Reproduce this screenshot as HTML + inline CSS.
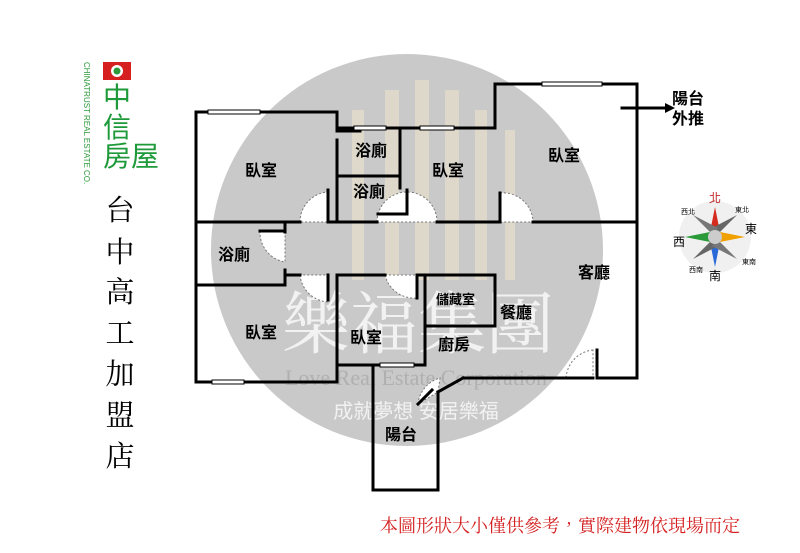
<!DOCTYPE html>
<html><head><meta charset="utf-8"><style>
html,body{margin:0;padding:0;background:#fff;width:800px;height:553px;overflow:hidden}
svg{display:block}
</style></head><body>
<svg width="800" height="553" xmlns="http://www.w3.org/2000/svg" font-family="Liberation Sans, Noto Sans CJK TC, sans-serif">
<circle cx="407" cy="250" r="196" fill="#c9c9c9"/>
<g fill="#efe6cc" opacity="0.55">
<rect x="352" y="110" width="12" height="170"/><rect x="385" y="90" width="14" height="190"/><rect x="415" y="80" width="14" height="200"/><rect x="445" y="90" width="14" height="190"/><rect x="475" y="110" width="12" height="170"/><rect x="505" y="130" width="10" height="150"/>
</g>
<text x="418" y="348" font-size="68" fill="#f2f2f2" text-anchor="middle" font-family="Noto Serif CJK SC, serif">樂福集團</text>
<text x="416" y="385" font-size="22" fill="#b0b0b0" text-anchor="middle" font-family="Liberation Serif, serif">Love Real Estate Corporation</text>
<text x="416" y="418" font-size="20" fill="#f2f2f2" text-anchor="middle">成就夢想 安居樂福</text>
<g stroke="#777" stroke-width="1" stroke-dasharray="2,2" fill="#fff">
<path d="M300,222 A30,30 0 0 1 328,192 L328,222Z"/>
<path d="M377,222 A30,30 0 0 1 437,222Z"/>
<path d="M500,193 A30,30 0 0 1 533,222 L500,222Z"/>
<path d="M260,231 A30,30 0 0 0 285,262 L285,231Z"/>
<path d="M300,275 A30,30 0 0 0 328,302 L328,275Z"/>
<path d="M385,275 A30,30 0 0 0 417,298 L417,275Z"/>
<path d="M418,404 A30,30 0 0 1 440,378 L438,392Z"/>
<path d="M593,350 A30,30 0 0 0 566,378 L593,378Z"/>
</g>
<g stroke="#000" stroke-width="3" fill="none" stroke-linecap="square">
<polyline points="337,128 337,112 196,112 196,382 337,382"/>
<polyline points="337,128 495,128 495,84 637,84 637,378 597,378 597,350"/>
<line x1="593" y1="378" x2="463" y2="378"/><line x1="463" y1="378" x2="438" y2="392"/>
<line x1="196" y1="222" x2="300" y2="222"/><line x1="330" y1="222" x2="377" y2="222"/>
<line x1="437" y1="222" x2="500" y2="222"/><line x1="533" y1="222" x2="637" y2="222"/>
<line x1="337" y1="140" x2="337" y2="222"/><line x1="400" y1="128" x2="400" y2="188"/>
<line x1="337" y1="176" x2="400" y2="176"/>
<line x1="196" y1="285" x2="285" y2="285"/><line x1="285" y1="270" x2="285" y2="285"/>
<line x1="285" y1="222" x2="285" y2="232"/><line x1="260" y1="231" x2="285" y2="231"/>
<line x1="285" y1="275" x2="300" y2="275"/><line x1="337" y1="275" x2="385" y2="275"/>
<line x1="417" y1="275" x2="495" y2="275"/><line x1="495" y1="275" x2="495" y2="326"/>
<line x1="425" y1="326" x2="495" y2="326"/><line x1="425" y1="275" x2="425" y2="365"/>
<line x1="417" y1="275" x2="417" y2="298"/>
<line x1="337" y1="275" x2="337" y2="382"/>
<line x1="337" y1="365" x2="425" y2="365"/>
<polyline points="373,365 373,490 438,490 438,392"/>
<line x1="328" y1="190" x2="328" y2="222"/><line x1="407" y1="190" x2="407" y2="214"/><line x1="378" y1="214" x2="407" y2="214"/>
<line x1="500" y1="193" x2="500" y2="222"/><line x1="328" y1="275" x2="328" y2="300"/>
<line x1="337" y1="131" x2="360" y2="131"/>
<line x1="418" y1="404" x2="432" y2="390"/>
<line x1="622" y1="108" x2="665" y2="108"/>
</g>
<polygon points="665,103 675,108 665,113" fill="#000"/>
<g fill="#fff" stroke="#000" stroke-width="1">
<rect x="208" y="110" width="52" height="4"/><rect x="542" y="82" width="60" height="4"/>
<rect x="354" y="126" width="32" height="4"/><rect x="420" y="126" width="34" height="4"/>
<rect x="212" y="380" width="32" height="4"/><rect x="380" y="363" width="34" height="4"/>
</g>
<g font-size="16" font-weight="bold" fill="#000">
<text x="245" y="176">臥室</text><text x="432" y="176">臥室</text><text x="548" y="161">臥室</text>
<text x="355" y="156">浴廁</text><text x="353" y="197">浴廁</text><text x="218" y="260">浴廁</text>
<text x="578" y="278">客廳</text><text x="500" y="318">餐廳</text><text x="438" y="350">廚房</text>
<text x="245" y="338">臥室</text><text x="350" y="343">臥室</text><text x="385" y="440">陽台</text>
<text x="436" y="304" font-size="13">儲藏室</text>
<text x="672" y="104">陽台</text><text x="672" y="124">外推</text>
</g>
<rect x="103" y="62" width="28" height="18" fill="#d62020"/><circle cx="117" cy="71" r="6" fill="#fff"/><circle cx="117" cy="71" r="3.5" fill="#2a9a3a"/>
<text x="84" y="62" font-size="8" fill="#2a9a3a" transform="rotate(90 84 62)">CHINATRUST REAL ESTATE CO.</text>
<text x="103" y="107" font-size="28" fill="#1f9a3a">中</text>
<text x="103" y="137" font-size="28" fill="#1f9a3a">信</text>
<text x="103" y="166" font-size="28" fill="#1f9a3a">房屋</text>
<g font-size="29" fill="#000" font-family="Noto Serif CJK SC, serif" text-anchor="middle">
<text x="120" y="220">台</text><text x="120" y="262">中</text><text x="120" y="302">高</text><text x="120" y="343">工</text><text x="120" y="384">加</text><text x="120" y="425">盟</text><text x="120" y="466">店</text>
</g>
<circle cx="715" cy="237" r="36" fill="#f0f0f0"/>
<polygon points="715,207 720,232 710,232" fill="#d52b1e"/>
<polygon points="745,237 720,232 720,242" fill="#f0a000"/>
<polygon points="715,267 710,242 720,242" fill="#2a6ad8"/>
<polygon points="685,237 710,242 710,232" fill="#2a9a3a"/>
<polygon points="737,215 718,234 712,228" fill="#666"/><polygon points="693,259 712,240 718,246" fill="#666"/>
<polygon points="693,215 712,234 718,228" fill="#777"/><polygon points="737,259 718,240 712,246" fill="#777"/>
<circle cx="715" cy="237" r="7" fill="#ccc"/>
<text x="709" y="202" font-size="12" fill="#c0282a">北</text>
<text x="745" y="233" font-size="12">東</text><text x="709" y="280" font-size="12">南</text><text x="673" y="246" font-size="12">西</text>
<text x="735" y="212" font-size="7">東北</text><text x="681" y="214" font-size="7">西北</text><text x="742" y="264" font-size="7">東南</text><text x="689" y="272" font-size="7">西南</text>
<text x="380" y="532" font-size="18" fill="#d42020" font-family="Noto Serif CJK TC, Noto Serif CJK SC, serif">本圖形狀大小僅供參考，實際建物依現場而定</text>
</svg>
</body></html>
